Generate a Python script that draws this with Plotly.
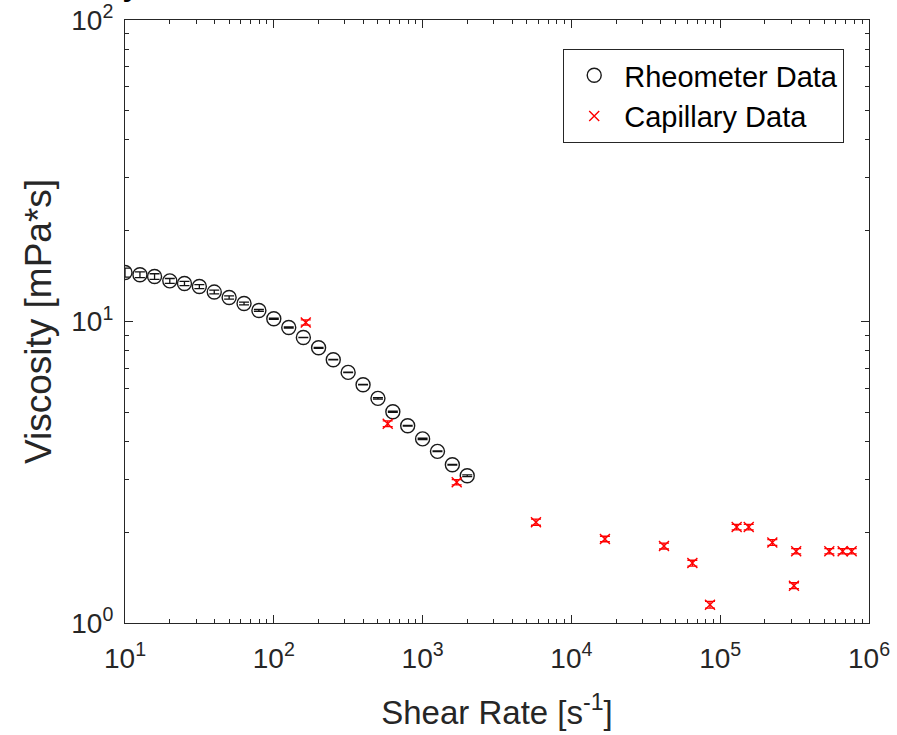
import plotly.graph_objects as go

# Rheometer data (shear rate [1/s], viscosity [mPa*s], error)
rheo_rate = [10, 12.6, 15.8, 20, 25.1, 31.6, 39.8, 50.1, 63.1, 79.4, 100, 126,
             158, 200, 251, 316, 398, 501, 631, 794, 1000, 1259, 1585, 1995]
rheo_visc = [14.54, 14.29, 14.10, 13.64, 13.37, 13.06, 12.52, 12.01, 11.47, 10.88,
             10.21, 9.55, 8.85, 8.18, 7.47, 6.78, 6.17, 5.56, 5.02, 4.51,
             4.08, 3.71, 3.35, 3.08]
rheo_err = [0.50, 0.32, 0.30, 0.25, 0.22, 0.20, 0.18, 0.15, 0.12, 0.08,
            0.05, 0.04, 0.01, 0.03, 0.01, 0.01, 0.01, 0.03, 0.02, 0.01,
            0.02, 0.01, 0.01, 0.02]

# Capillary data
cap_rate = [164, 583, 1695, 5780, 16800, 41900, 65000, 85400, 129000, 155500,
            224000, 313000, 324000, 541000, 665000, 765000]
cap_visc = [9.92, 4.58, 2.93, 2.16, 1.90, 1.80, 1.58, 1.15, 2.08, 2.08,
            1.85, 1.33, 1.73, 1.73, 1.73, 1.73]
cap_err = [0.20, 0.10, 0.06, 0.05, 0.04, 0.04, 0.035, 0.03, 0.045, 0.045,
           0.04, 0.03, 0.035, 0.035, 0.035, 0.035]

# Tick labels
x_exponents = [1, 2, 3, 4, 5, 6]
y_exponents = [0, 1, 2]
x_tickvals = [10 ** e for e in x_exponents]
x_ticktext = ['10<sup>%d</sup>' % e for e in x_exponents]
y_tickvals = [10 ** e for e in y_exponents]
y_ticktext = ['10<sup>%d</sup>' % e for e in y_exponents]
x_minor = [m * 10 ** e for e in x_exponents[:-1] for m in range(2, 10)]
y_minor = [m * 10 ** e for e in y_exponents[:-1] for m in range(2, 10)]

AX = '#262626'
SANS = 'Liberation Sans, Arial, Helvetica, sans-serif'

fig = go.Figure()
fig.add_trace(go.Scatter(
    x=rheo_rate, y=rheo_visc, mode='markers', name='Rheometer Data',
    marker=dict(symbol='circle-open', size=14, color='#1a1a1a', line=dict(width=1.4, color='#1a1a1a')),
    error_y=dict(type='data', array=rheo_err, visible=True, color='#111111', thickness=1.3, width=5),
))
fig.add_trace(go.Scatter(
    x=cap_rate, y=cap_visc, mode='markers', name='Capillary Data',
    marker=dict(symbol='x-thin-open', size=10, color='red', line=dict(width=1.4, color='red')),
    error_y=dict(type='data', array=cap_err, visible=True, color='red', thickness=1.3, width=5),
))


def axis_common(tickvals, ticktext, minorvals, standoff):
    return dict(
        type='log', ticks='inside', ticklen=8, tickwidth=1, tickcolor=AX,
        showline=True, linecolor=AX, linewidth=1.2, mirror='ticks',
        showgrid=False, zeroline=False, automargin=False,
        tickmode='array', tickvals=tickvals, ticktext=ticktext,
        ticklabelstandoff=standoff,
        minor=dict(ticks='inside', ticklen=4, tickwidth=1, tickcolor=AX,
                   tickmode='array', tickvals=minorvals, showgrid=False),
        tickfont=dict(family=SANS, size=28, color=AX),
    )


fig.update_layout(
    width=897, height=735,
    margin=dict(l=125, r=28, t=20, b=112, autoexpand=False),
    paper_bgcolor='white', plot_bgcolor='white',
    showlegend=True,
    xaxis=dict(range=[1, 6], title=dict(text='Shear Rate [s<sup>-1</sup>]',
               font=dict(family=SANS, size=33, color=AX), standoff=28),
               **axis_common(x_tickvals, x_ticktext, x_minor, 10)),
    yaxis=dict(range=[0, 2], title=dict(text='Viscosity [mPa*s]',
               font=dict(family=SANS, size=37, color=AX), standoff=8),
               **axis_common(y_tickvals, y_ticktext, y_minor, 5)),
    legend=dict(x=0.589, y=0.952, xanchor='left', yanchor='top',
                bordercolor=AX, borderwidth=1, bgcolor='white',
                font=dict(family=SANS, size=29, color='black'),
                itemwidth=50, tracegroupgap=0),
    annotations=[dict(text='<b>Viscosity vs Shear Rate Measured on the Rheometer and in the Tube</b>',
                      xref='paper', yref='paper', x=0.5, y=1, xanchor='center', yanchor='bottom',
                      yshift=16, showarrow=False,
                      font=dict(family=SANS, size=30, color='black'))],
)

fig.write_html('out.html')
